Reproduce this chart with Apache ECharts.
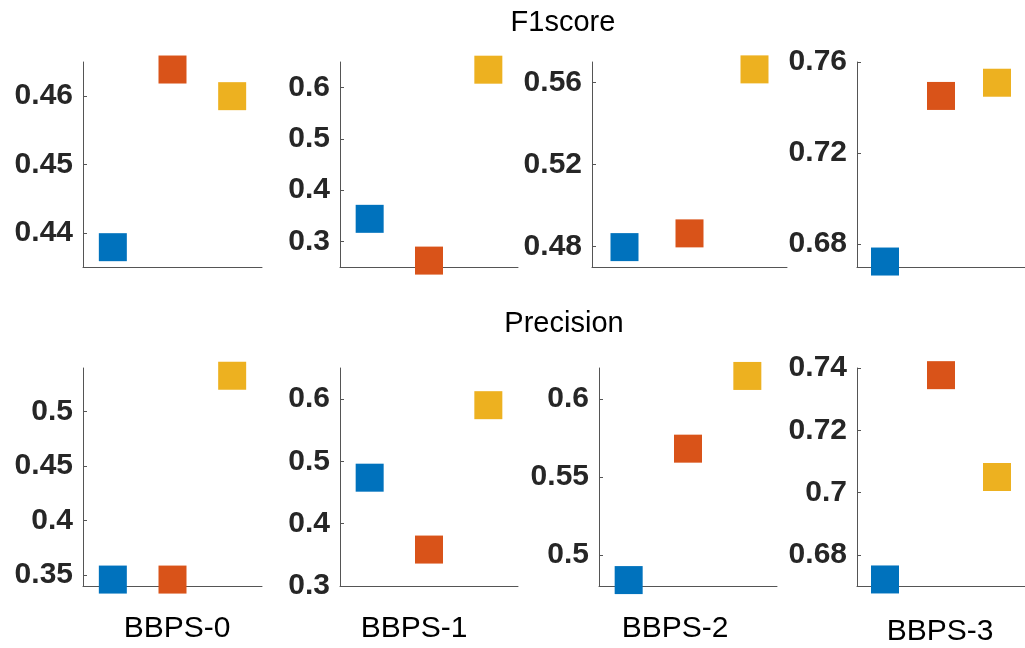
<!DOCTYPE html>
<html>
<head>
<meta charset="utf-8">
<script src="https://cdn.jsdelivr.net/npm/echarts@6/dist/echarts.min.js"></script>
<style>
html,body{margin:0;padding:0;background:#fff;}
#c{width:1025px;height:648px;}
</style>
</head>
<body>
<div id="c"></div>
<script>
// ---- data ----
var categories = ['BBPS-0', 'BBPS-1', 'BBPS-2', 'BBPS-3'];
var metrics = ['F1score', 'Precision'];

var f1Blue   = [0.4379, 0.344, 0.4797, 0.6724];
var f1Orange = [0.4639, 0.2625, 0.4864, 0.7451];
var f1Yellow = [0.4600, 0.635, 0.5664, 0.7509];

var precBlue   = [0.3459, 0.4739, 0.4838, 0.6721];
var precOrange = [0.3459, 0.3585, 0.5682, 0.7377];
var precYellow = [0.5329, 0.5903, 0.6149, 0.7050];

var f1Ticks   = [[0.44, 0.45, 0.46], [0.3, 0.4, 0.5, 0.6], [0.48, 0.52, 0.56], [0.68, 0.72, 0.76]];
var precTicks = [[0.35, 0.4, 0.45, 0.5], [0.3, 0.4, 0.5, 0.6], [0.5, 0.55, 0.6], [0.68, 0.7, 0.72, 0.74]];

var f1Min   = [0.435, 0.25, 0.47, 0.67];
var f1Max   = [0.465, 0.65, 0.57, 0.76];
var precMin = [0.34, 0.30, 0.48, 0.67];
var precMax = [0.54, 0.65, 0.62, 0.74];

// ---- layout ----
var colors = ['#0072BD', '#D95319', '#EDB120'];
var rowTop = [62, 368];
var rowHeight = [205, 218];
var colLeft = [[83, 340, 592, 857], [83, 340, 599, 857]];
var colWidth = [[179, 178, 195, 177], [179, 178, 178, 177]];

var grids = [], xAxes = [], yAxes = [], series = [];
var rows = [
  {blue: f1Blue, orange: f1Orange, yellow: f1Yellow, ticks: f1Ticks, min: f1Min, max: f1Max},
  {blue: precBlue, orange: precOrange, yellow: precYellow, ticks: precTicks, min: precMin, max: precMax}
];
var axisColor = '#555555';
var idx = 0;
rows.forEach(function (r, ri) {
  for (var ci = 0; ci < 4; ci++) {
    grids.push({left: colLeft[ri][ci], width: colWidth[ri][ci], top: rowTop[ri], height: rowHeight[ri], containLabel: false});
    xAxes.push({
      gridIndex: idx, type: 'value', min: 0.5, max: 3.5,
      axisLine: {show: true, onZero: false, lineStyle: {color: axisColor, width: 1}},
      axisTick: {show: false}, axisLabel: {show: false}, splitLine: {show: false}
    });
    yAxes.push({
      gridIndex: idx, type: 'value', min: r.min[ci], max: r.max[ci],
      axisLine: {show: true, onZero: false, lineStyle: {color: axisColor, width: 1}},
      axisTick: {show: true, inside: true, length: 4, lineStyle: {color: axisColor}, customValues: r.ticks[ci]},
      axisLabel: {
        show: true, customValues: r.ticks[ci], margin: 10,
        fontFamily: 'Liberation Sans, Arial, sans-serif', fontWeight: 'bold', fontSize: 30, color: '#262626'
      },
      splitLine: {show: false}
    });
    var vals = [r.blue[ci], r.orange[ci], r.yellow[ci]];
    vals.forEach(function (v, k) {
      series.push({
        type: 'scatter', xAxisIndex: idx, yAxisIndex: idx,
        symbol: 'rect', symbolSize: 28, clip: false,
        itemStyle: {color: colors[k], opacity: 1},
        data: [[k + 1, v]], silent: true, animation: false
      });
    });
    idx++;
  }
});

var labelX = [177, 414, 675, 940];
var labelY = [629, 629, 629, 632];
var graphics = [
  {type: 'text', x: 563, y: 23, style: {text: metrics[0], align: 'center', verticalAlign: 'middle', font: '29px "Liberation Sans", Arial, sans-serif', fill: '#000'}},
  {type: 'text', x: 564, y: 324, style: {text: metrics[1], align: 'center', verticalAlign: 'middle', font: '29px "Liberation Sans", Arial, sans-serif', fill: '#000'}}
];
categories.forEach(function (c, i) {
  graphics.push({type: 'text', x: labelX[i], y: labelY[i], style: {text: c, align: 'center', verticalAlign: 'middle', font: '30px "Liberation Sans", Arial, sans-serif', fill: '#000'}});
});

var chart = echarts.init(document.getElementById('c'), null, {renderer: 'canvas'});
chart.setOption({
  backgroundColor: '#ffffff',
  animation: false,
  grid: grids,
  xAxis: xAxes,
  yAxis: yAxes,
  series: series,
  graphic: graphics
});
</script>
</body>
</html>
